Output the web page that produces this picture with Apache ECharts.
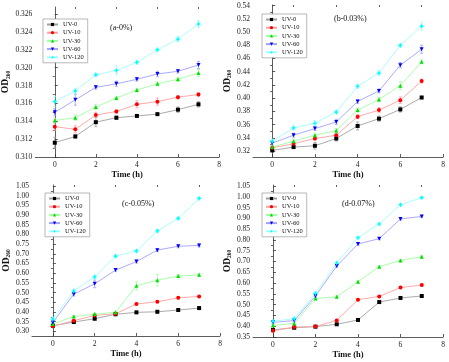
<!DOCTYPE html>
<html><head><meta charset="utf-8">
<script src="https://cdn.jsdelivr.net/npm/echarts@6/dist/echarts.min.js"></script>
<style>html,body{margin:0;padding:0;background:#fff}#c{width:449px;height:362px}</style>
</head><body><div id="c"></div>
<script>
// ---- data ----
const timeH = [0, 1, 2, 3, 4, 5, 6, 7];
const seriesNames = ['UV-0', 'UV-10', 'UV-30', 'UV-60', 'UV-120'];
const xTickLabels = [0, 2, 4, 6, 8];
const panelTitles = ['(a-0%)', '(b-0.03%)', '(c-0.05%)', '(d-0.07%)'];

// panel a (0%)
const aUV0   = [0.3116, 0.3123, 0.3139, 0.3144, 0.3146, 0.3148, 0.3153, 0.3159];
const aUV10  = [0.3134, 0.3131, 0.3147, 0.3151, 0.3159, 0.3162, 0.3167, 0.3170];
const aUV30  = [0.3141, 0.3144, 0.3156, 0.3166, 0.3175, 0.3182, 0.3187, 0.3194];
const aUV60  = [0.3150, 0.3164, 0.3178, 0.3182, 0.3187, 0.3193, 0.3196, 0.3203];
const aUV120 = [0.3162, 0.3174, 0.3192, 0.3197, 0.3206, 0.3220, 0.3232, 0.3249];
const aErr0   = [0.0006, 0.0002, 0.0005, 0.0002, 0.0001, 0.0001, 0.0003, 0.0003];
const aErr10  = [0.0004, 0.0004, 0.0003, 0.0002, 0.0004, 0.0004, 0.0002, 0.0002];
const aErr30  = [0.0002, 0.0003, 0.0003, 0.0002, 0.0002, 0.0002, 0.0002, 0.0004];
const aErr60  = [0.0004, 0.0006, 0.0002, 0.0003, 0.0002, 0.0003, 0.0002, 0.0004];
const aErr120 = [0.0006, 0.0003, 0.0002, 0.0005, 0.0002, 0.0002, 0.0003, 0.0004];
const aYTicks = [0.310, 0.312, 0.314, 0.316, 0.318, 0.320, 0.322, 0.324, 0.326];

// panel b (0.03%)
const bUV0   = [0.321, 0.326, 0.328, 0.339, 0.358, 0.369, 0.383, 0.401];
const bUV10  = [0.325, 0.331, 0.339, 0.344, 0.372, 0.382, 0.397, 0.426];
const bUV30  = [0.326, 0.335, 0.344, 0.351, 0.382, 0.398, 0.419, 0.455];
const bUV60  = [0.332, 0.344, 0.354, 0.364, 0.395, 0.411, 0.450, 0.474];
const bUV120 = [0.335, 0.355, 0.362, 0.379, 0.418, 0.438, 0.480, 0.509];
const bErr0   = [0.002, 0.002, 0.005, 0.004, 0.006, 0.004, 0.004, 0.002];
const bErr10  = [0.002, 0.003, 0.003, 0.003, 0.003, 0.004, 0.005, 0.003];
const bErr30  = [0.002, 0.003, 0.003, 0.003, 0.003, 0.003, 0.006, 0.003];
const bErr60  = [0.003, 0.003, 0.003, 0.004, 0.003, 0.003, 0.004, 0.006];
const bErr120 = [0.003, 0.003, 0.004, 0.003, 0.003, 0.004, 0.003, 0.006];
const bYTicks = [0.32, 0.34, 0.36, 0.38, 0.40, 0.42, 0.44, 0.46, 0.48, 0.50, 0.52, 0.54];

// panel c (0.05%)
const cUV0   = [0.329, 0.348, 0.365, 0.388, 0.398, 0.401, 0.410, 0.420];
const cUV10  = [0.326, 0.355, 0.382, 0.391, 0.441, 0.453, 0.473, 0.480];
const cUV30  = [0.338, 0.376, 0.389, 0.398, 0.535, 0.564, 0.585, 0.592];
const cUV60  = [0.346, 0.492, 0.545, 0.616, 0.660, 0.719, 0.739, 0.743];
const cUV120 = [0.363, 0.508, 0.581, 0.688, 0.715, 0.818, 0.883, 0.986];
const cErr0   = [0.010, 0.005, 0.005, 0.005, 0.005, 0.005, 0.005, 0.005];
const cErr10  = [0.005, 0.005, 0.005, 0.005, 0.005, 0.005, 0.006, 0.005];
const cErr30  = [0.005, 0.006, 0.006, 0.005, 0.020, 0.030, 0.008, 0.008];
const cErr60  = [0.006, 0.010, 0.020, 0.008, 0.008, 0.008, 0.008, 0.008];
const cErr120 = [0.010, 0.010, 0.010, 0.008, 0.008, 0.008, 0.008, 0.008];
const cYTicks = [0.30, 0.35, 0.40, 0.45, 0.50, 0.55, 0.60, 0.65, 0.70, 0.75, 0.80, 0.85, 0.90, 0.95, 1.00, 1.05];

// panel d (0.07%)
const dUV0   = [0.383, 0.393, 0.398, 0.409, 0.429, 0.512, 0.531, 0.540];
const dUV10  = [0.379, 0.396, 0.399, 0.427, 0.523, 0.538, 0.579, 0.591];
const dUV30  = [0.404, 0.413, 0.528, 0.537, 0.606, 0.676, 0.705, 0.722];
const dUV60  = [0.418, 0.426, 0.540, 0.679, 0.781, 0.806, 0.897, 0.909];
const dUV120 = [0.423, 0.435, 0.552, 0.693, 0.810, 0.874, 0.963, 0.996];
const dErr0   = [0.006, 0.005, 0.005, 0.005, 0.005, 0.005, 0.005, 0.005];
const dErr10  = [0.006, 0.005, 0.005, 0.005, 0.005, 0.005, 0.005, 0.005];
const dErr30  = [0.005, 0.005, 0.006, 0.005, 0.005, 0.005, 0.005, 0.005];
const dErr60  = [0.005, 0.005, 0.008, 0.006, 0.006, 0.005, 0.005, 0.005];
const dErr120 = [0.005, 0.005, 0.008, 0.006, 0.006, 0.005, 0.005, 0.005];
const dYTicks = [0.35, 0.40, 0.45, 0.50, 0.55, 0.60, 0.65, 0.70, 0.75, 0.80, 0.85, 0.90, 0.95, 1.00, 1.05];

// ---- layout / style ----
const FONT = 'Liberation Serif';
const panels = [
  {vals:[aUV0,aUV10,aUV30,aUV60,aUV120], errs:[aErr0,aErr10,aErr30,aErr60,aErr120], yt:aYTicks, dec:3,
   grid:{left:32, top:7, width:187, height:150}, xmin:-0.95, ymin:0.310, ymax:0.3268, leg:{left:43, top:19}, ann:[110,24]},
  {vals:[bUV0,bUV10,bUV30,bUV60,bUV120], errs:[bErr0,bErr10,bErr30,bErr60,bErr120], yt:bYTicks, dec:2,
   grid:{left:253, top:5, width:190, height:152}, xmin:-0.9, ymin:0.311, ymax:0.541, leg:{left:262, top:14}, ann:[334,15]},
  {vals:[cUV0,cUV10,cUV30,cUV60,cUV120], errs:[cErr0,cErr10,cErr30,cErr60,cErr120], yt:cYTicks, dec:2,
   grid:{left:32, top:185, width:188, height:151}, xmin:-1.0, ymin:0.276, ymax:1.055, leg:{left:45, top:193}, ann:[122,200]},
  {vals:[dUV0,dUV10,dUV30,dUV60,dUV120], errs:[dErr0,dErr10,dErr30,dErr60,dErr120], yt:dYTicks, dec:2,
   grid:{left:253, top:185, width:190, height:152}, xmin:-0.94, ymin:0.35, ymax:1.0546, leg:{left:262, top:193}, ann:[342,200]}
];
const markColors = ['#000000', '#ff0000', '#00e000', '#0000ff', '#00ffff'];
const lineColors = ['#a0a0a0', '#ffa0a0', '#a0ffa0', '#a0a0ff', '#a0ffff'];
const symbols = ['rect', 'circle', 'triangle', 'path://M-1,-0.8 L1,-0.8 L0,1 Z',
  'path://M0,-1 L0.3,-0.3 L1,0 L0.3,0.3 L0,1 L-0.3,0.3 L-1,0 L-0.3,-0.3 Z'];
const axisColor = '#333';

function mids(arr){ const m=[]; for(let i=0;i<arr.length-1;i++) m.push((arr[i]+arr[i+1])/2); return m; }

function renderErr(params, api){
  const x = api.value(0), lo = api.value(1), hi = api.value(2);
  const p1 = api.coord([x, lo]), p2 = api.coord([x, hi]);
  const c = api.visual('color');
  const st = {stroke:c, lineWidth:0.8};
  return {type:'group', children:[
    {type:'line', shape:{x1:p1[0],y1:p1[1],x2:p2[0],y2:p2[1]}, style:st},
    {type:'line', shape:{x1:p1[0]-1.5,y1:p1[1],x2:p1[0]+1.5,y2:p1[1]}, style:st},
    {type:'line', shape:{x1:p2[0]-1.5,y1:p2[1],x2:p2[0]+1.5,y2:p2[1]}, style:st}
  ]};
}

const grid=[], xAxis=[], yAxis=[], series=[], legend=[], graphic=[];
panels.forEach((p, gi) => {
  grid.push(Object.assign({containLabel:false}, p.grid));
  const baseX = {gridIndex:gi, type:'value', min:p.xmin, max:8};
  xAxis.push(Object.assign({}, baseX, {
    name:'Time (h)', nameLocation:'middle', nameGap:13,
    nameTextStyle:{fontFamily:FONT, fontWeight:'bold', fontSize:8.5, color:'#111'},
    axisLine:{lineStyle:{color:axisColor, width:0.8}},
    axisTick:{inside:true, length:3, customValues:xTickLabels, lineStyle:{color:axisColor, width:0.8}},
    axisLabel:{customValues:xTickLabels, fontFamily:FONT, fontSize:7.5, color:'#222', margin:4},
    splitLine:{show:false}
  }));
  xAxis.push(Object.assign({}, baseX, {
    axisLine:{show:false}, axisLabel:{show:false}, splitLine:{show:false},
    axisTick:{inside:true, length:2, customValues:mids(xTickLabels), lineStyle:{color:axisColor, width:0.8}}
  }));
  const baseY = {gridIndex:gi, type:'value', min:p.ymin, max:p.ymax};
  yAxis.push(Object.assign({}, baseY, {
    name:'{od|OD}{sub|260}', nameLocation:'middle', nameGap:p.dec===3?23:20,
    nameTextStyle:{rich:{od:{fontFamily:FONT, fontWeight:'bold', fontSize:9.5, color:'#111'},
                         sub:{fontFamily:FONT, fontWeight:'bold', fontSize:5.5, color:'#111', padding:[5,0,0,0]}}},
    axisLine:{show:true, lineStyle:{color:axisColor, width:0.8}},
    axisTick:{show:true, inside:true, length:3, customValues:p.yt, lineStyle:{color:axisColor, width:0.8}},
    axisLabel:{customValues:p.yt, fontFamily:FONT, fontSize:7.5, color:'#222', margin:3,
               formatter:v => v.toFixed(p.dec)},
    splitLine:{show:false}
  }));
  yAxis.push(Object.assign({}, baseY, {
    axisLine:{show:false}, axisLabel:{show:false}, splitLine:{show:false},
    axisTick:{show:true, inside:true, length:2, customValues:mids(p.yt), lineStyle:{color:axisColor, width:0.8}}
  }));
  const xi = gi*2, yi = gi*2;
  p.vals.forEach((vals, si) => {
    series.push({
      type:'line', name:seriesNames[si], xAxisIndex:xi, yAxisIndex:yi,
      data: timeH.map((t,k)=>[t, vals[k]]),
      symbol:symbols[si], symbolSize:si===4?5.5:4, showSymbol:true,
      lineStyle:{color:lineColors[si], width:0.9},
      itemStyle:{color:markColors[si]}, z:3, animation:false
    });
  });
  p.vals.forEach((vals, si) => {
    series.push({
      type:'custom', name:'err', xAxisIndex:xi, yAxisIndex:yi,
      data: timeH.map((t,k)=>[t, vals[k]-p.errs[si][k], vals[k]+p.errs[si][k]]),
      renderItem:renderErr, itemStyle:{color:lineColors[si]}, z:2, animation:false, silent:true
    });
  });
  legend.push({
    data:seriesNames, orient:'vertical', left:p.leg.left, top:p.leg.top,
    itemWidth:11, itemHeight:4, itemGap:1.2, padding:[2,4,2,3],
    borderColor:'#999', borderWidth:0.7, backgroundColor:'#fff',
    textStyle:{fontFamily:FONT, fontSize:6.5, color:'#111', lineHeight:6.5},
    selectedMode:false
  });
  graphic.push({type:'text', left:p.ann[0], top:p.ann[1],
    style:{text:panelTitles[gi], fontFamily:FONT, fontSize:8, fill:'#111'}});
});

const chart = echarts.init(document.getElementById('c'), null, {renderer:'canvas'});
chart.setOption({backgroundColor:'#fff', animation:false, grid, xAxis, yAxis, series, legend, graphic});
</script></body></html>
